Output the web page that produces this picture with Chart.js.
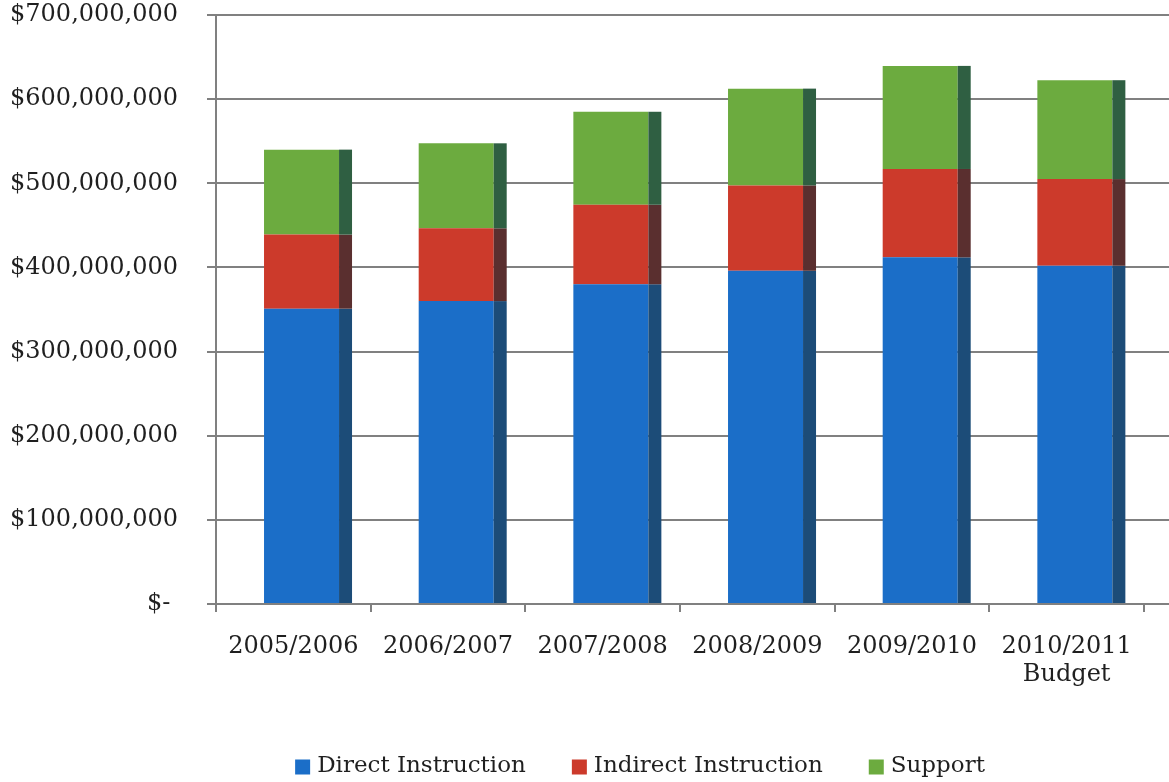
<!DOCTYPE html>
<html>
<head>
<meta charset="utf-8">
<title>Expenditures by Category</title>
<script src="https://cdn.jsdelivr.net/npm/chart.js@4.4.1/dist/chart.umd.min.js"></script>
<style>
  html, body { margin: 0; padding: 0; background: #ffffff; overflow: hidden; }
  #wrap { width: 1169px; height: 782px; position: relative; }
</style>
</head>
<body>
<div id="wrap"><canvas id="chart" width="1169" height="782"></canvas></div>
<script>
// Fiscal years shown on the category axis
const categories = ['2005/2006', '2006/2007', '2007/2008', '2008/2009', '2009/2010', ['2010/2011', 'Budget']];

// Spending by category, in dollars
const directInstruction   = [351000000, 360000000, 380000000, 396000000, 412000000, 402000000];
const indirectInstruction = [88000000, 86500000, 94500000, 101500000, 105000000, 103000000];
const support             = [101000000, 101000000, 110500000, 115000000, 122500000, 117500000];

// Value axis ticks
const yTicks = [0, 100000000, 200000000, 300000000, 400000000, 500000000, 600000000, 700000000];

const seriesNames = ['Direct Instruction', 'Indirect Instruction', 'Support'];
const frontColors = ['#1b6ec8', '#cc3a2b', '#6cab3f'];
const sideColors  = ['#1c4c78', '#5a2f2f', '#2f5f42'];

const FONT = "'DejaVu Serif', 'Liberation Serif', serif";
const TEXT = '#1f1f1f';
const GRID = '#808080';

// Bars sit slightly right of the category centre, with a dark side face for depth
const depthPlugin = {
  id: 'depth',
  afterDatasetsUpdate(chart) {
    const x = chart.scales.x;
    const step = (x.right - x.left) / chart.data.labels.length;
    chart.data.datasets.forEach((ds, i) => {
      chart.getDatasetMeta(i).data.forEach(el => { el.x += step * 0.053; });
    });
  },
  beforeDatasetsDraw(chart) {
    // carry the value gridlines on past the last category
    const { ctx, chartArea } = chart;
    const y = chart.scales.y;
    ctx.save();
    ctx.strokeStyle = GRID;
    ctx.lineWidth = 2;
    y.ticks.forEach(t => {
      const py = Math.round(y.getPixelForValue(t.value));
      ctx.beginPath();
      ctx.moveTo(chartArea.right - 1, py);
      ctx.lineTo(chart.width, py);
      ctx.stroke();
    });
    ctx.restore();
  },
  afterDatasetsDraw(chart) {
    const { ctx } = chart;
    const x = chart.scales.x;
    const step = (x.right - x.left) / chart.data.labels.length;
    const depth = step * 0.084;
    ctx.save();
    chart.data.datasets.forEach((ds, i) => {
      ctx.fillStyle = sideColors[i];
      chart.getDatasetMeta(i).data.forEach(el => {
        const p = el.getProps(['x', 'y', 'base', 'width'], true);
        const right = p.x + p.width / 2;
        const top = Math.min(p.y, p.base);
        const h = Math.abs(p.base - p.y);
        ctx.fillRect(right, top, depth, h);
      });
    });
    ctx.restore();
  },
  afterDraw(chart) {
    // legend row: square swatch followed by the series name
    const { ctx } = chart;
    ctx.save();
    ctx.font = '23px ' + FONT;
    ctx.textBaseline = 'middle';
    ctx.textAlign = 'left';
    const box = 15, gap = 7, itemGap = 46;
    const widths = chart.data.datasets.map(ds => box + gap + ctx.measureText(ds.label).width);
    const total = widths.reduce((a, b) => a + b, 0) + itemGap * (widths.length - 1);
    let cx = 640 - total / 2;
    const cy = 766;
    chart.data.datasets.forEach((ds, i) => {
      ctx.fillStyle = ds.backgroundColor;
      ctx.fillRect(cx, cy - box / 2 + 1, box, box);
      ctx.fillStyle = TEXT;
      ctx.fillText(ds.label, cx + box + gap, cy);
      cx += widths[i] + itemGap;
    });
    ctx.restore();
  }
};

const seriesValues = [directInstruction, indirectInstruction, support];

new Chart(document.getElementById('chart'), {
  type: 'bar',
  data: {
    labels: categories,
    datasets: seriesValues.map((vals, i) => ({
      label: seriesNames[i],
      data: vals,
      backgroundColor: frontColors[i],
      borderWidth: 0,
      categoryPercentage: 1,
      barPercentage: 0.485
    }))
  },
  options: {
    responsive: false,
    animation: false,
    layout: { padding: { top: 15, right: 25, left: 0, bottom: 0 } },
    plugins: {
      legend: { display: false },
      tooltip: { enabled: false }
    },
    scales: {
      x: {
        stacked: true,
        afterFit(scale) { scale.height = 178; },
        grid: {
          offset: true,
          drawOnChartArea: false,
          drawTicks: true,
          tickLength: 8,
          color: GRID,
          lineWidth: 2
        },
        border: { display: true, color: GRID, width: 2 },
        ticks: {
          color: TEXT,
          padding: 21,
          maxRotation: 0,
          autoSkip: false,
          font: { family: FONT, size: 24, lineHeight: 1.15 }
        }
      },
      y: {
        stacked: true,
        min: 0,
        max: 700000000,
        afterFit(scale) {
          scale.width = 216;
          scale.paddingTop = 0;
          scale.paddingBottom = 0;
        },
        afterBuildTicks(scale) { scale.ticks = yTicks.map(v => ({ value: v })); },
        grid: {
          color: GRID,
          lineWidth: 2,
          tickLength: 9
        },
        border: { display: true, color: GRID, width: 2 },
        ticks: {
          color: TEXT,
          padding: 29,
          font: { family: FONT, size: 24 },
          callback(v) { return v === 0 ? '$- ' : '$' + Number(v).toLocaleString('en-US'); }
        }
      }
    }
  },
  plugins: [depthPlugin]
});
</script>
</body>
</html>
